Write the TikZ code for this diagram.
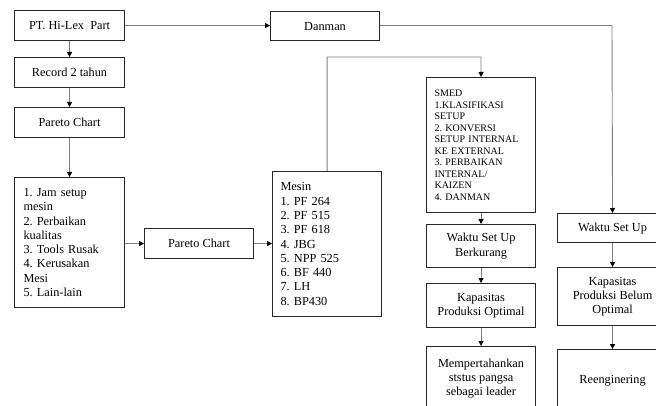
\documentclass[tikz,border=0pt]{standalone}
\usepackage{fontspec}
\setmainfont{Liberation Serif}
\usetikzlibrary{arrows.meta}
\frenchspacing
\begin{document}
\begin{tikzpicture}[x=1pt,y=-1pt,
 box/.style={draw=black!85, line width=1.1pt, anchor=north west, inner sep=0pt, font=\fontsize{12.3}{14.3}\selectfont},
 cbox/.style={box, align=center},
 lbox/.style={box, align=left, text width=93pt, inner xsep=8pt},
 conn/.style={draw=black!50, line width=0.9pt, -{Triangle[length=5pt,width=5pt,color=black]}}]
\useasboundingbox (0,0) rectangle (656,406);
\fill[white] (0,0) rectangle (656,406);
% left column
\node[cbox, minimum width=110pt, minimum height=30pt] (pt) at (14,10) {PT. Hi-Lex\ \ Part};
\node[cbox, minimum width=110pt, minimum height=30pt] (rec) at (14,57) {Record 2 tahun};
\node[cbox, minimum width=110pt, minimum height=30pt] (par1) at (14,107) {Pareto Chart};
\node[box, minimum width=110pt, minimum height=130pt, text width=92pt, inner xsep=9pt, align=left] (list) at (14,177) {1. Jam setup\\ mesin\\ 2. Perbaikan\\ kualitas\\ 3. Tools Rusak\\ 4. Kerusakan\\ Mesi\\ 5. Lain-lain};
\node[cbox, minimum width=109pt, minimum height=30pt] (par2) at (144,228) {Pareto Chart};
\node[lbox, minimum height=145pt] (mesin) at (272,171) {Mesin\\ 1. PF 264\\ 2. PF 515\\ 3. PF 618\\ 4. JBG\\ 5. NPP 525\\ 6. BF 440\\ 7. LH\\ 8. BP430};
\node[cbox, minimum width=109pt, minimum height=29pt] (danman) at (270,11) {Danman};
% middle column
\node[lbox, minimum height=135pt, font=\fontsize{10}{11.5}\selectfont] (smed) at (426,77) {SMED\\ 1.KLASIFIKASI\\ SETUP\\ 2. KONVERSI\\ SETUP INTERNAL\\ KE EXTERNAL\\ 3. PERBAIKAN\\ INTERNAL/\\ KAIZEN\\ 4. DANMAN};
\node[cbox, minimum width=109pt, minimum height=43pt] (wsb) at (426,224) {Waktu Set Up\\ Berkurang};
\node[cbox, minimum width=109pt, minimum height=44pt] (kpo) at (426,283) {Kapasitas\\ Produksi Optimal};
\node[cbox, minimum width=109pt, minimum height=64pt] (mem) at (426,346) {Mempertahankan\\ ststus pangsa\\ sebagai leader};
% right column
\node[cbox, minimum width=110pt, minimum height=29pt] (wsu) at (557,213) {Waktu Set Up};
\node[cbox, minimum width=110pt, minimum height=58pt] (kpb) at (557,267) {Kapasitas\\ Produksi Belum\\ Optimal};
\node[cbox, minimum width=110pt, minimum height=62pt] (reng) at (557,349) {Reenginering};
% connectors
\draw[conn] (pt) -- (rec);
\draw[conn] (rec) -- (par1);
\draw[conn] (par1) -- (list);
\draw[conn] (list.east |- par2) -- (par2.west);
\draw[conn] (par2.east) -- (par2.east -| mesin.west);
\draw[conn] (pt.east) -- (pt.east -| danman.west);
\coordinate (c1) at (612,25.5);
\draw[conn] (danman.east |- c1) -- (c1) -- (wsu.north);
\coordinate (c2) at (481,57);
\draw[conn] (mesin.north) |- (c2) -- (smed.north);
\draw[conn] (smed) -- (wsb);
\draw[conn] (wsb) -- (kpo);
\draw[conn] (kpo) -- (mem);
\draw[conn] (wsu) -- (kpb);
\draw[conn] (kpb) -- (reng);
\end{tikzpicture}
\end{document}
